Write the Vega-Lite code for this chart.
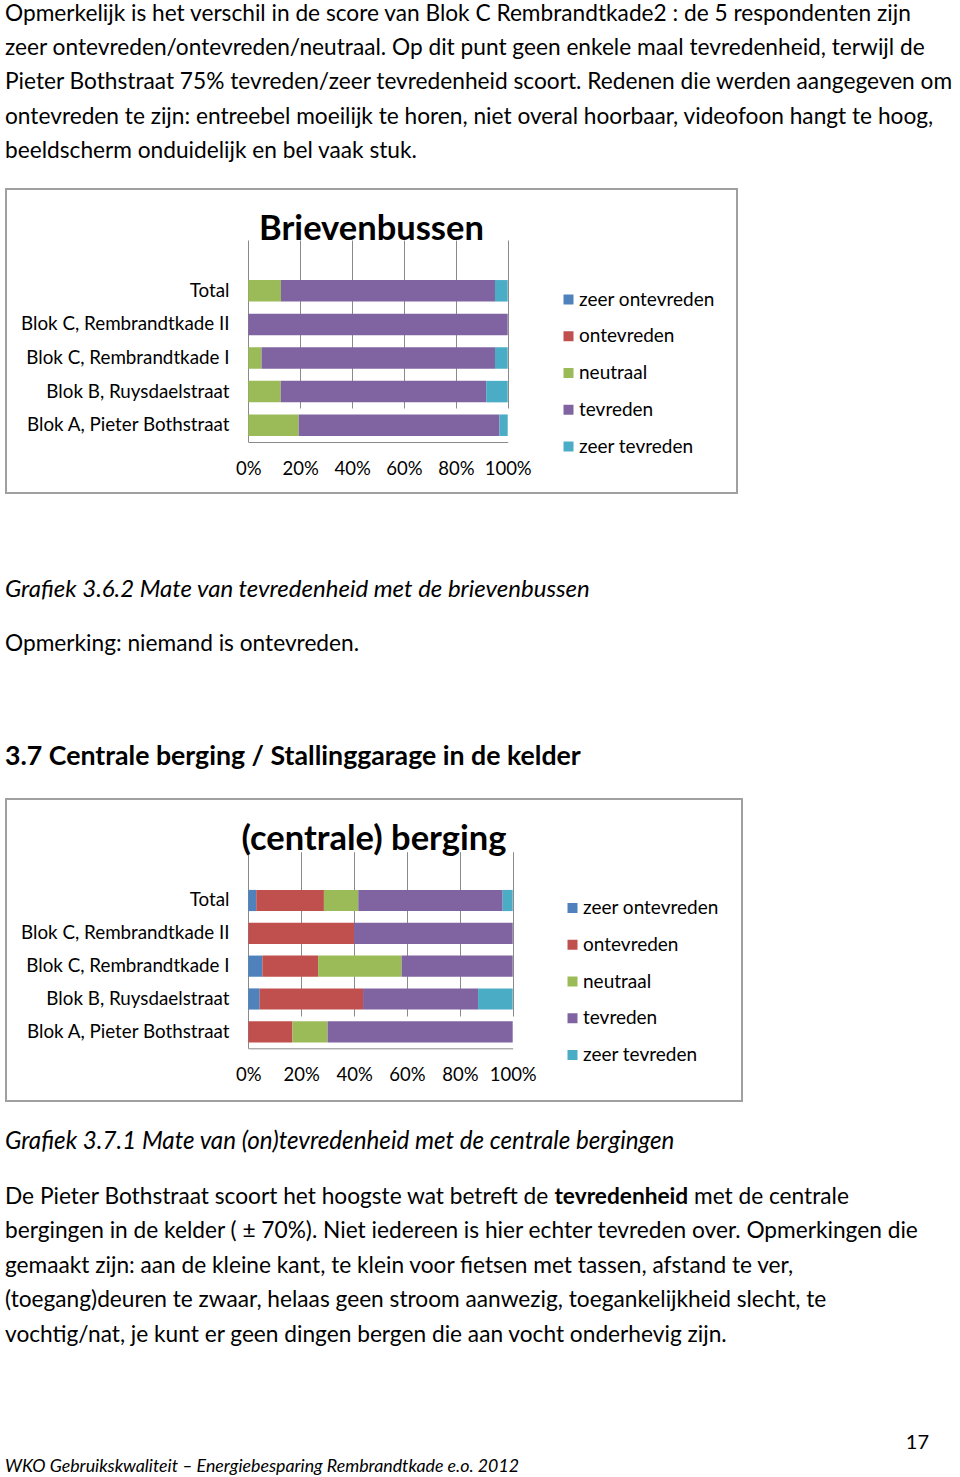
{
  "$schema": "https://vega.github.io/schema/vega-lite/v6.json",
  "background": "white",
  "padding": {"left": 5, "top": 0, "right": 0, "bottom": 0},
  "spacing": 0,
  "bounds": "flush",
  "resolve": {"scale": {"color": "independent"}, "legend": {"color": "independent"}},
  "config": {
    "font": "Lato",
    "view": {"stroke": null},
    "title": {"font": "Lato", "color": "#000", "anchor": "start", "frame": "group", "fontWeight": "normal", "baseline": "top", "subtitleFont": "Lato", "subtitleColor": "#000"},
    "axis": {"labelFont": "Lato", "labelColor": "#000", "domainColor": "#8a8a8a", "gridColor": "#8a8a8a", "gridOpacity": 1},
    "legend": {"labelFont": "Lato", "labelColor": "#000"}
  },
  "datasets": {
    "brieven": [
      {"blok": "Total", "cat": "neutraal", "k": 3, "pct": 12.6},
      {"blok": "Total", "cat": "tevreden", "k": 4, "pct": 82.5},
      {"blok": "Total", "cat": "zeer tevreden", "k": 5, "pct": 4.9},
      {"blok": "Blok C, Rembrandtkade II", "cat": "tevreden", "k": 4, "pct": 100},
      {"blok": "Blok C, Rembrandtkade I", "cat": "neutraal", "k": 3, "pct": 5.1},
      {"blok": "Blok C, Rembrandtkade I", "cat": "tevreden", "k": 4, "pct": 90.0},
      {"blok": "Blok C, Rembrandtkade I", "cat": "zeer tevreden", "k": 5, "pct": 4.9},
      {"blok": "Blok B, Ruysdaelstraat", "cat": "neutraal", "k": 3, "pct": 12.5},
      {"blok": "Blok B, Ruysdaelstraat", "cat": "tevreden", "k": 4, "pct": 79.2},
      {"blok": "Blok B, Ruysdaelstraat", "cat": "zeer tevreden", "k": 5, "pct": 8.3},
      {"blok": "Blok A, Pieter Bothstraat", "cat": "neutraal", "k": 3, "pct": 19.4},
      {"blok": "Blok A, Pieter Bothstraat", "cat": "tevreden", "k": 4, "pct": 77.4},
      {"blok": "Blok A, Pieter Bothstraat", "cat": "zeer tevreden", "k": 5, "pct": 3.2}
    ],
    "berging": [
      {"blok": "Total", "cat": "zeer ontevreden", "k": 1, "pct": 3.0},
      {"blok": "Total", "cat": "ontevreden", "k": 2, "pct": 25.6},
      {"blok": "Total", "cat": "neutraal", "k": 3, "pct": 13.0},
      {"blok": "Total", "cat": "tevreden", "k": 4, "pct": 54.6},
      {"blok": "Total", "cat": "zeer tevreden", "k": 5, "pct": 3.8},
      {"blok": "Blok C, Rembrandtkade II", "cat": "ontevreden", "k": 2, "pct": 40},
      {"blok": "Blok C, Rembrandtkade II", "cat": "tevreden", "k": 4, "pct": 60},
      {"blok": "Blok C, Rembrandtkade I", "cat": "zeer ontevreden", "k": 1, "pct": 5.3},
      {"blok": "Blok C, Rembrandtkade I", "cat": "ontevreden", "k": 2, "pct": 21.1},
      {"blok": "Blok C, Rembrandtkade I", "cat": "neutraal", "k": 3, "pct": 31.6},
      {"blok": "Blok C, Rembrandtkade I", "cat": "tevreden", "k": 4, "pct": 42.0},
      {"blok": "Blok B, Ruysdaelstraat", "cat": "zeer ontevreden", "k": 1, "pct": 4.3},
      {"blok": "Blok B, Ruysdaelstraat", "cat": "ontevreden", "k": 2, "pct": 39.1},
      {"blok": "Blok B, Ruysdaelstraat", "cat": "tevreden", "k": 4, "pct": 43.5},
      {"blok": "Blok B, Ruysdaelstraat", "cat": "zeer tevreden", "k": 5, "pct": 13.1},
      {"blok": "Blok A, Pieter Bothstraat", "cat": "ontevreden", "k": 2, "pct": 16.7},
      {"blok": "Blok A, Pieter Bothstraat", "cat": "neutraal", "k": 3, "pct": 13.3},
      {"blok": "Blok A, Pieter Bothstraat", "cat": "tevreden", "k": 4, "pct": 70.0}
    ]
  },
  "vconcat": [
    {
      "width": 923, "height": 1,
      "data": {"values": []}, "mark": "point",
      "title": {
        "text": [
          "Opmerkelijk is het verschil in de score van Blok C Rembrandtkade2 : de 5 respondenten zijn",
          "zeer ontevreden/ontevreden/neutraal. Op dit punt geen enkele maal tevredenheid, terwijl de",
          "Pieter Bothstraat 75% tevreden/zeer tevredenheid scoort. Redenen die werden aangegeven om",
          "ontevreden te zijn: entreebel moeilijk te horen, niet overal hoorbaar, videofoon hangt te hoog,",
          "beeldscherm onduidelijk en bel vaak stuk."
        ],
        "orient": "bottom", "offset": 1.5, "dx": -1, "fontSize": 22.7, "lineHeight": 34.4
      }
    },
    {"width": 923, "height": 188, "data": {"values": []}, "mark": "point"},
    {
      "width": 731, "height": 304,
      "view": {"stroke": "#a0a0a0", "strokeWidth": 2},
      "title": {"text": "Brievenbussen", "orient": "top", "anchor": "middle", "offset": -58, "fontSize": 34.5, "fontWeight": "bold"},
      "data": {"name": "brieven"},
      "mark": {"type": "bar"},
      "encoding": {
        "y": {"field": "blok", "type": "nominal",
          "sort": ["Total", "Blok C, Rembrandtkade II", "Blok C, Rembrandtkade I", "Blok B, Ruysdaelstraat", "Blok A, Pieter Bothstraat"],
          "scale": {"range": [85, 253], "paddingInner": 0.36, "paddingOuter": 0.18},
          "axis": {"orient": "left", "offset": -242, "title": null, "ticks": false, "labelPadding": 19, "labelFontSize": 18.8, "labelLimit": 300, "grid": false}},
        "x": {"field": "pct", "type": "quantitative", "stack": "zero",
          "scale": {"domain": [0, 100], "range": [242.3, 501.7], "nice": false},
          "axis": {"values": [0, 20, 40, 60, 80, 100], "labelExpr": "datum.value + '%'", "offset": -51, "ticks": false, "labelPadding": 17, "grid": true, "title": null, "labelFontSize": 18.5, "labelFlush": false}},
        "color": {"field": "cat", "type": "nominal",
          "scale": {"domain": ["zeer ontevreden", "ontevreden", "neutraal", "tevreden", "zeer tevreden"], "range": ["#4F81BD", "#C0504D", "#9BBB59", "#8064A2", "#4BACC6"]},
          "legend": {"orient": "none", "legendX": 553, "legendY": 101, "direction": "vertical", "title": null, "symbolType": "square", "symbolSize": 100, "symbolStrokeWidth": 0, "labelFontSize": 19, "rowPadding": 16.75, "labelOffset": 1, "padding": 0, "labelLimit": 300}},
        "order": {"field": "k", "type": "quantitative"}
      }
    },
    {
      "width": 923, "height": 1,
      "data": {"values": []}, "mark": "point",
      "title": {
        "text": "Grafiek 3.6.2 Mate van tevredenheid met de brievenbussen",
        "subtitle": "Opmerking: niemand is ontevreden.",
        "orient": "bottom", "offset": 84.2, "dx": -1, "fontSize": 24, "fontStyle": "italic",
        "subtitleFontSize": 22.7, "subtitlePadding": 30.5
      }
    },
    {
      "width": 923, "height": 1,
      "data": {"values": []}, "mark": "point",
      "title": {
        "text": "3.7 Centrale berging / Stallinggarage in de kelder",
        "orient": "bottom", "offset": 248.6, "dx": -1, "fontSize": 26.7, "fontWeight": "bold"
      }
    },
    {"width": 923, "height": 304, "data": {"values": []}, "mark": "point"},
    {
      "width": 736, "height": 302,
      "view": {"stroke": "#a0a0a0", "strokeWidth": 2},
      "title": {"text": "(centrale) berging", "orient": "top", "anchor": "middle", "offset": -58, "fontSize": 34.5, "fontWeight": "bold"},
      "data": {"name": "berging"},
      "mark": {"type": "bar"},
      "encoding": {
        "y": {"field": "blok", "type": "nominal",
          "sort": ["Total", "Blok C, Rembrandtkade II", "Blok C, Rembrandtkade I", "Blok B, Ruysdaelstraat", "Blok A, Pieter Bothstraat"],
          "scale": {"range": [85, 249.3], "paddingInner": 0.355, "paddingOuter": 0.18},
          "axis": {"orient": "left", "offset": -242, "title": null, "ticks": false, "labelPadding": 19, "labelFontSize": 18.8, "labelLimit": 300, "grid": false}},
        "x": {"field": "pct", "type": "quantitative", "stack": "zero",
          "scale": {"domain": [0, 100], "range": [242.3, 506.7], "nice": false},
          "axis": {"values": [0, 20, 40, 60, 80, 100], "labelExpr": "datum.value + '%'", "offset": -52.7, "ticks": false, "labelPadding": 17, "grid": true, "title": null, "labelFontSize": 18.5, "labelFlush": false}},
        "color": {"field": "cat", "type": "nominal",
          "scale": {"domain": ["zeer ontevreden", "ontevreden", "neutraal", "tevreden", "zeer tevreden"], "range": ["#4F81BD", "#C0504D", "#9BBB59", "#8064A2", "#4BACC6"]},
          "legend": {"orient": "none", "legendX": 557, "legendY": 99.5, "direction": "vertical", "title": null, "symbolType": "square", "symbolSize": 100, "symbolStrokeWidth": 0, "labelFontSize": 19, "rowPadding": 16.75, "labelOffset": 1, "padding": 0, "labelLimit": 300}},
        "order": {"field": "k", "type": "quantitative"}
      }
    },
    {
      "width": 923, "height": 1,
      "data": {"values": []}, "mark": "point",
      "title": {
        "text": "Grafiek 3.7.1 Mate van (on)tevredenheid met de centrale bergingen",
        "subtitle": [
          "bergingen in de kelder ( ± 70%). Niet iedereen is hier echter tevreden over. Opmerkingen die",
          "gemaakt zijn: aan de kleine kant, te klein voor fietsen met tassen, afstand te ver,",
          "(toegang)deuren te zwaar, helaas geen stroom aanwezig, toegankelijkheid slecht, te",
          "vochtig/nat, je kunt er geen dingen bergen die aan vocht onderhevig zijn."
        ],
        "orient": "bottom", "offset": 28.2, "dx": -1, "fontSize": 24.2, "fontStyle": "italic",
        "subtitleFontSize": 22.7, "subtitlePadding": 65.8, "subtitleLineHeight": 34.5
      }
    },
    {
      "width": 923, "height": 1,
      "data": {"values": []}, "mark": "point",
      "title": {"text": "17", "orient": "bottom", "anchor": "end", "offset": 330.2, "fontSize": 20}
    },
    {
      "width": 923, "height": 1,
      "data": {"values": []}, "mark": "point",
      "title": {"text": "WKO Gebruikskwaliteit – Energiebesparing Rembrandtkade e.o. 2012", "orient": "bottom", "offset": 354, "dx": -1, "fontSize": 17.8, "fontStyle": "italic"}
    },
    {
      "width": 923, "height": 1,
      "data": {"values": []}, "mark": "point",
      "title": {"text": "De Pieter Bothstraat scoort het hoogste wat betreft de", "orient": "bottom", "offset": 80.7, "dx": -1, "fontSize": 22.7}
    },
    {
      "width": 923, "height": 1,
      "data": {"values": []}, "mark": "point",
      "title": {"text": "tevredenheid", "orient": "bottom", "offset": 79.7, "dx": 548.5, "fontSize": 22.7, "fontWeight": "bold"}
    },
    {
      "width": 923, "height": 1,
      "data": {"values": []}, "mark": "point",
      "title": {"text": "met de centrale", "orient": "bottom", "offset": 78.7, "dx": 688, "fontSize": 22.7}
    }
  ]
}
